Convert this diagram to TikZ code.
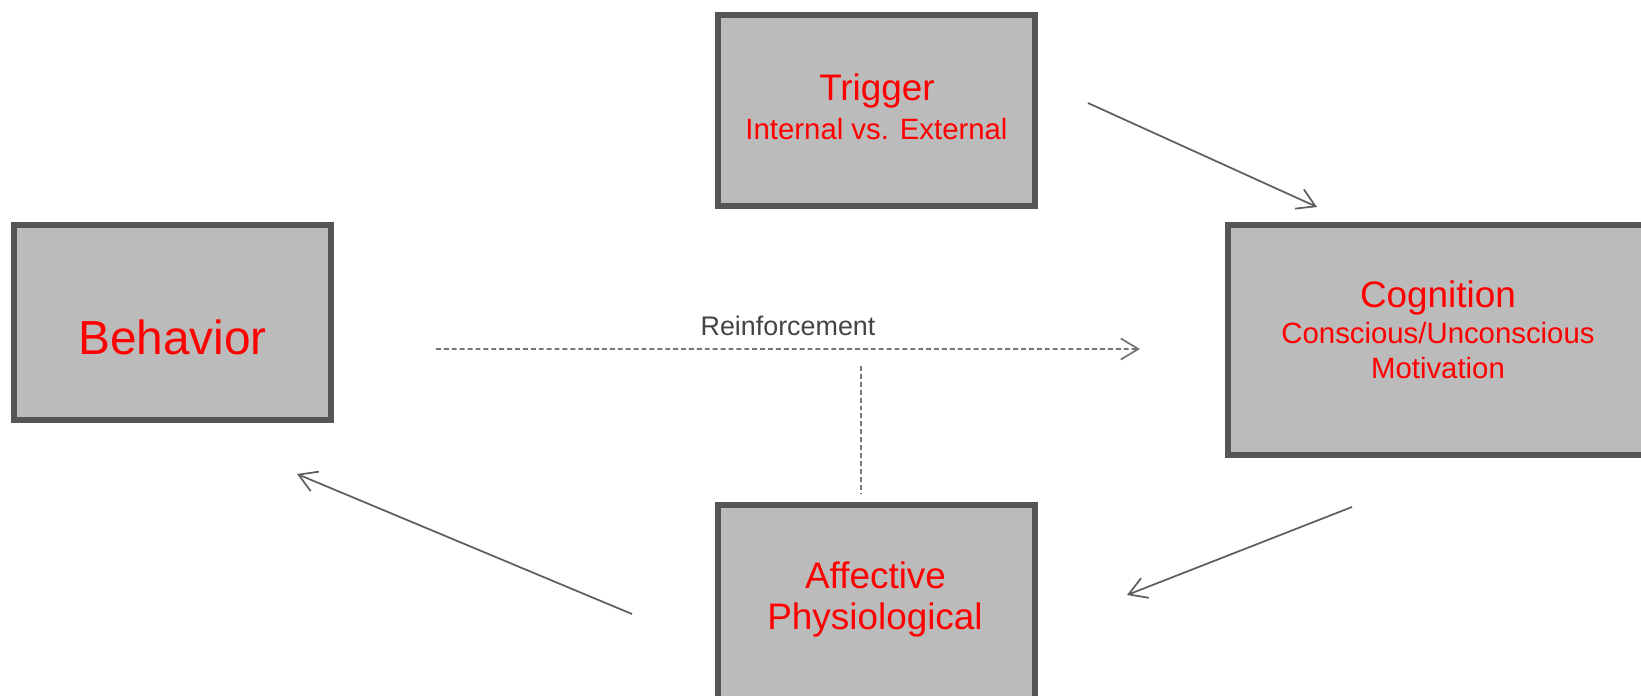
\documentclass[tikz,border=0pt]{standalone}
\usepackage{fontspec}
\setmainfont{Liberation Sans}
\usetikzlibrary{calc, arrows.meta, positioning}
\definecolor{boxfill}{HTML}{BBBBBB}
\definecolor{boxline}{HTML}{555555}
\definecolor{linkgray}{HTML}{5F5F5F}
\definecolor{dashgray}{HTML}{767676}
\definecolor{labelgray}{HTML}{444444}

\begin{document}
\begin{tikzpicture}[x=0.02cm, y=-0.02cm,
    box/.style=
    {draw=boxline, fill=boxfill, line width=0.12cm, rectangle, outer sep=0pt, inner sep=0pt}, head/.style=
    {text=red, anchor=base, inner sep=0pt, font=\fontsize{21}{25}\selectfont},
    sub/.style=
    {text=red, anchor=base, inner sep=0pt, font=\fontsize{16.7}{20}\selectfont},
    link/.style=
    {draw=linkgray, line width=0.035cm, -{Straight Barb[length=10pt, width=12pt]}},
    dashlink/.style=
    {draw=dashgray, line width=0.035cm, dash pattern=on 2.8pt off 1.7pt}]
    \useasboundingbox (0,0) rectangle (1641,696);
    \clip (0,0) rectangle (1641,696);
    % boxes
    \node (trig) [box, minimum width=6.34cm, minimum height=3.82cm] at (876.5,110.5) {};
    \node (behav) [box, minimum width=6.34cm, minimum height=3.9cm] at (172.5,322.5) {};
    \node (cogn) [box, minimum width=8.4cm, minimum height=4.6cm] at (1438,340) {};
    \node (affec) [box, minimum width=6.34cm, minimum height=4.6cm] at (876.5,620) {};
    % texts
    \node (trig title) [head] at ($(trig.north)+(0.5,85)$) {Trigger};
    \node (trig sub) [sub] at ($(trig.north)+(0,124)$) {Internal vs. External};
    \node (behav title) [head, font=\fontsize{27.2}{32}\selectfont] at ($(behav.north)+(0,129)$) {Behavior};
    \node (cogn title) [head] at ($(cogn.north)+(0,82)$) {Cognition};
    \node (cogn sub) [sub] at ($(cogn.north)+(0,118)$) {Conscious/Unconscious};
    \node (cogn motive) [sub] at ($(cogn.north)+(0,153)$) {Motivation};
    \node (affec title) [head] at ($(affec.north)+(-1,83)$) {Affective};
    \node (affec sub) [head] at ($(affec.north)+(-1.5,124)$) {Physiological};
    % connector ends
    \coordinate (tc start) at ($(trig.east)+(53,-7.5)$);
    \coordinate (tc end) at ($(cogn.north west)+(89,-18)$);
    \coordinate (ca start) at ($(cogn.south)+(-86,52)$);
    \coordinate (ca end) at ($(affec.north east)+(92,90)$);
    \coordinate (ab start) at ($(affec.north west)+(-86,109)$);
    \coordinate (ab end) at ($(behav.south east)+(-34,54)$);
    \coordinate (re start) at ($(behav.east)+(105,26.5)$);
    \coordinate (re end) at ($(cogn.west)+(-88,9)$);
    \coordinate (af top) at ($(affec.north)+(-15.5,-139)$);
    \coordinate (af bottom) at ($(affec.north)+(-15.5,-12)$);
    \path (tc start) edge[link] (tc end)
          (ca start) edge[link] (ca end)
          (ab start) edge[link] (ab end);
    \draw[dashlink, -{Straight Barb[length=10pt, width=12pt]}] (re start) -- (re end)
        node (reinf) [midway, above=7pt, text=labelgray, inner sep=0pt, font=\fontsize{15.3}{18}\selectfont] {Reinforcement};
    \draw[dashlink] (af top) -- (af bottom);
\end{tikzpicture}
\end{document}
